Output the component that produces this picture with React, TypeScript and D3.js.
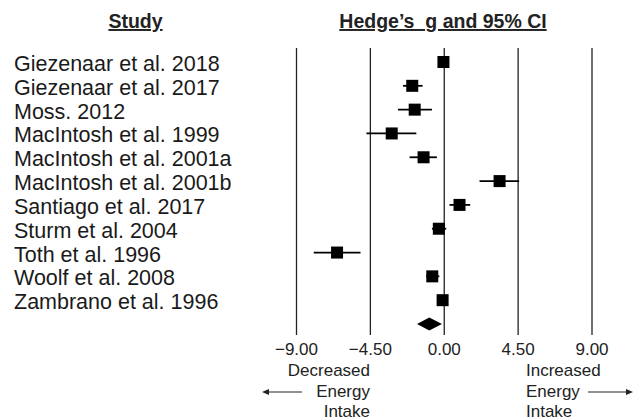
import { useRef, useEffect } from "react";
import * as d3 from "d3";

// Forest plot values
const studies = [
  "Giezenaar et al. 2018",
  "Giezenaar et al. 2017",
  "Moss. 2012",
  "MacIntosh et al. 1999",
  "MacIntosh et al. 2001a",
  "MacIntosh et al. 2001b",
  "Santiago et al. 2017",
  "Sturm et al. 2004",
  "Toth et al. 1996",
  "Woolf et al. 2008",
  "Zambrano et al. 1996",
];
const hedgesG = [-0.05, -1.95, -1.8, -3.2, -1.26, 3.37, 0.93, -0.33, -6.53, -0.73, -0.1];
const lowerCI = [-0.3, -2.51, -2.82, -4.74, -2.11, 2.15, 0.32, -0.75, -7.95, -1.11, -0.35];
const upperCI = [0.2, -1.32, -0.75, -1.7, -0.45, 4.56, 1.58, 0.12, -5.1, -0.3, 0.15];
const overall = { g: -0.91, lower: -1.66, upper: -0.14 };
const tickValues = [-9, -4.5, 0, 4.5, 9];
const leftNote = ["Decreased", "Energy", "Intake"];
const rightNote = ["Increased", "Energy", "Intake"];

const FONT = "'Liberation Sans', Arial, sans-serif";

export default function App() {
  const svgRef = useRef<SVGSVGElement>(null);

  useEffect(() => {
    const width = 640;
    const height = 420;
    const svg = d3.select(svgRef.current);
    svg.selectAll("*").remove();
    svg.attr("width", width).attr("height", height);

    svg.append("rect").attr("width", width).attr("height", height).attr("fill", "#fff");

    const x = d3.scaleLinear().domain([-9, 9]).range([296.5, 592]);
    const rows = d3.scalePoint<string>().domain([...studies, "__overall"]).range([62, 324]);

    const gridTop = 48;
    const gridBottom = 335;

    // Headers
    const headers = [
      { text: "Study", x: 135.5 },
      { text: "Hedge\u2019s  g and 95% CI", x: 443 },
    ];
    svg
      .selectAll(".hdr")
      .data(headers)
      .enter()
      .append("text")
      .attr("class", "hdr")
      .attr("x", (d) => d.x)
      .attr("y", 28)
      .attr("text-anchor", "middle")
      .attr("font-family", FONT)
      .attr("font-weight", "bold")
      .attr("font-size", "19.5px")
      .attr("fill", "#222")
      .attr("text-decoration", "underline")
      .style("white-space", "pre")
      .text((d) => d.text);

    // Vertical reference lines
    svg
      .append("g")
      .selectAll("line")
      .data(tickValues)
      .enter()
      .append("line")
      .attr("x1", (d) => x(d))
      .attr("x2", (d) => x(d))
      .attr("y1", gridTop)
      .attr("y2", gridBottom)
      .attr("stroke", "#222")
      .attr("stroke-width", 1.3);

    // Tick labels
    svg
      .append("g")
      .selectAll("text")
      .data(tickValues)
      .enter()
      .append("text")
      .attr("x", (d) => x(d))
      .attr("y", 355)
      .attr("text-anchor", "middle")
      .attr("font-family", FONT)
      .attr("font-size", "17px")
      .attr("fill", "#222")
      .text((d) => d3.format(".2f")(d));

    // Study labels
    svg
      .append("g")
      .selectAll("text")
      .data(studies)
      .enter()
      .append("text")
      .attr("x", 14)
      .attr("y", (d) => (rows(d) ?? 0) + 9)
      .attr("font-family", FONT)
      .attr("font-size", "21.5px")
      .attr("fill", "#1a1a1a")
      .text((d) => d);

    // CI whiskers
    const g = svg.append("g");
    g.selectAll(".ci")
      .data(studies)
      .enter()
      .append("line")
      .attr("class", "ci")
      .attr("x1", (_, i) => x(lowerCI[i]))
      .attr("x2", (_, i) => x(upperCI[i]))
      .attr("y1", (d) => rows(d) ?? 0)
      .attr("y2", (d) => rows(d) ?? 0)
      .attr("stroke", "#000")
      .attr("stroke-width", 1.8);

    // Effect squares
    const sq = 12;
    g.selectAll(".pt")
      .data(studies)
      .enter()
      .append("rect")
      .attr("class", "pt")
      .attr("x", (_, i) => x(hedgesG[i]) - sq / 2)
      .attr("y", (d) => (rows(d) ?? 0) - sq / 2)
      .attr("width", sq)
      .attr("height", sq)
      .attr("fill", "#000");

    // Summary diamond
    const yo = rows("__overall") ?? 0;
    const dh = 6.5;
    g.append("path")
      .attr(
        "d",
        `M${x(overall.lower)},${yo}L${x(overall.g)},${yo - dh}L${x(overall.upper)},${yo}L${x(overall.g)},${yo + dh}Z`
      )
      .attr("fill", "#000");

    // Direction notes
    const noteY = [376, 396.5, 416.5];
    svg
      .append("g")
      .selectAll("text")
      .data(leftNote)
      .enter()
      .append("text")
      .attr("x", 370)
      .attr("y", (_, i) => noteY[i])
      .attr("text-anchor", "end")
      .attr("font-family", FONT)
      .attr("font-size", "17px")
      .attr("fill", "#222")
      .text((d) => d);

    svg
      .append("g")
      .selectAll("text")
      .data(rightNote)
      .enter()
      .append("text")
      .attr("x", 526)
      .attr("y", (_, i) => noteY[i])
      .attr("font-family", FONT)
      .attr("font-size", "17px")
      .attr("fill", "#222")
      .text((d) => d);

    // Arrows
    const arrowY = 392;
    const arrows = [
      { from: 302, to: 262 },
      { from: 588, to: 633 },
    ];
    arrows.forEach((a) => {
      const dir = a.to > a.from ? 1 : -1;
      svg
        .append("line")
        .attr("x1", a.from)
        .attr("x2", a.to - dir * 5)
        .attr("y1", arrowY)
        .attr("y2", arrowY)
        .attr("stroke", "#222")
        .attr("stroke-width", 1.2);
      svg
        .append("path")
        .attr("d", `M${a.to},${arrowY}L${a.to - dir * 7},${arrowY - 3}L${a.to - dir * 7},${arrowY + 3}Z`)
        .attr("fill", "#222");
    });
  }, []);

  return (
    <div style={{ position: "fixed", left: 0, top: 0, width: 640, height: 420 }}>
      <svg ref={svgRef} style={{ display: "block" }} />
    </div>
  );
}
